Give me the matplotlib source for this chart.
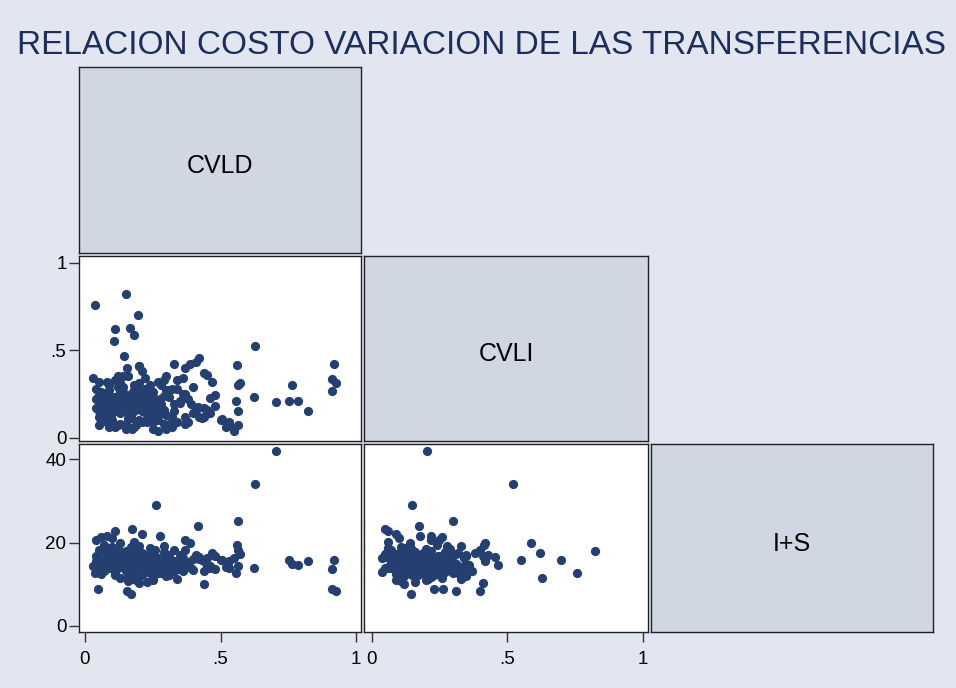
import matplotlib
matplotlib.use("Agg")
import matplotlib.pyplot as plt

plt.rcParams['font.family'] = ['Liberation Sans', 'DejaVu Sans']

# --- data (one entry per observation: CVLD, CVLI, I+S) ---
cvld = [
    0.037, 0.152, 0.196, 0.110, 0.167, 0.180, 0.106, 0.627, 0.705, 0.917,
    0.910, 0.925, 0.910, 0.764, 0.752, 0.786, 0.822, 0.623, 0.560, 0.563,
    0.570, 0.557, 0.565, 0.504, 0.530, 0.532, 0.565, 0.262, 0.418, 0.173,
    0.110, 0.278, 0.370, 0.387, 0.290, 0.440, 0.048, 0.170, 0.410, 0.420,
    0.450, 0.440, 0.370, 0.330, 0.400, 0.360, 0.340, 0.300, 0.480, 0.460,
    0.470, 0.145, 0.155, 0.200,
    0.05, 0.08, 0.12, 0.15, 0.18, 0.21, 0.24, 0.27, 0.30, 0.33,
    0.06, 0.09, 0.11, 0.14, 0.17, 0.20, 0.23, 0.26, 0.29, 0.32,
    0.04, 0.07, 0.10, 0.13, 0.16, 0.19, 0.22, 0.25, 0.28, 0.31,
    0.05, 0.08, 0.12, 0.16, 0.19, 0.22, 0.25, 0.35, 0.38, 0.41,
    0.06, 0.10, 0.13, 0.15, 0.18, 0.21, 0.24, 0.27, 0.43, 0.46,
    0.07, 0.09, 0.11, 0.14, 0.17, 0.20, 0.23, 0.26, 0.34, 0.37,
    0.05, 0.08, 0.12, 0.15, 0.18, 0.21, 0.24, 0.29, 0.32, 0.39,
    0.04, 0.06, 0.10, 0.13, 0.16, 0.19, 0.22, 0.25, 0.28, 0.42,
    0.03, 0.07, 0.11, 0.14, 0.17, 0.20, 0.23, 0.26, 0.30, 0.36,
    0.05, 0.09, 0.12, 0.15, 0.18, 0.21, 0.24, 0.27, 0.31, 0.44,
    0.08, 0.10, 0.13, 0.16, 0.19, 0.22, 0.25, 0.33, 0.38, 0.50,
    0.06, 0.09, 0.12, 0.14, 0.17, 0.20, 0.23, 0.28, 0.35, 0.40,
    0.07, 0.11, 0.15, 0.18, 0.21, 0.26, 0.30, 0.34, 0.45, 0.52,
    0.04, 0.08, 0.13, 0.16, 0.19, 0.23, 0.27, 0.31, 0.37, 0.48,
    0.09, 0.12, 0.14, 0.17, 0.20, 0.22, 0.25, 0.29, 0.32, 0.55,
]
cvli = [
    0.757, 0.823, 0.700, 0.620, 0.627, 0.587, 0.550, 0.522, 0.205, 0.420,
    0.335, 0.310, 0.265, 0.300, 0.210, 0.210, 0.153, 0.234, 0.415, 0.300,
    0.310, 0.210, 0.155, 0.107, 0.070, 0.090, 0.070, 0.150, 0.175, 0.050,
    0.060, 0.220, 0.250, 0.420, 0.330, 0.120, 0.230, 0.145, 0.430, 0.455,
    0.360, 0.370, 0.400, 0.420, 0.290, 0.340, 0.330, 0.350, 0.245, 0.225,
    0.320, 0.467, 0.400, 0.410,
    0.12, 0.25, 0.18, 0.08, 0.30, 0.15, 0.22, 0.10, 0.27, 0.19,
    0.20, 0.06, 0.33, 0.24, 0.13, 0.28, 0.09, 0.21, 0.16, 0.12,
    0.28, 0.17, 0.10, 0.31, 0.22, 0.07, 0.19, 0.26, 0.14, 0.23,
    0.15, 0.32, 0.24, 0.11, 0.18, 0.34, 0.13, 0.21, 0.09, 0.16,
    0.09, 0.20, 0.27, 0.16, 0.06, 0.23, 0.30, 0.18, 0.11, 0.14,
    0.24, 0.13, 0.19, 0.29, 0.21, 0.10, 0.25, 0.14, 0.28, 0.08,
    0.32, 0.18, 0.07, 0.21, 0.26, 0.17, 0.12, 0.24, 0.06, 0.19,
    0.17, 0.10, 0.23, 0.14, 0.35, 0.20, 0.27, 0.05, 0.19, 0.12,
    0.34, 0.22, 0.15, 0.26, 0.11, 0.31, 0.16, 0.22, 0.13, 0.25,
    0.07, 0.27, 0.29, 0.20, 0.15, 0.09, 0.18, 0.32, 0.08, 0.17,
    0.21, 0.14, 0.08, 0.18, 0.24, 0.28, 0.11, 0.15, 0.22, 0.10,
    0.26, 0.30, 0.21, 0.35, 0.12, 0.19, 0.25, 0.30, 0.20, 0.14,
    0.12, 0.23, 0.05, 0.27, 0.38, 0.17, 0.05, 0.09, 0.16, 0.06,
    0.22, 0.09, 0.26, 0.14, 0.20, 0.13, 0.04, 0.27, 0.12, 0.18,
    0.15, 0.35, 0.19, 0.25, 0.41, 0.22, 0.09, 0.08, 0.28, 0.04,
]
ins = [
    12.8, 18.0, 15.9, 17.5, 11.6, 19.9, 15.7, 34.0, 42.0, 15.9,
    13.7, 8.4, 8.9, 14.8, 15.9, 14.6, 15.5, 13.9, 19.3, 25.1,
    17.2, 12.6, 14.3, 15.8, 13.9, 15.5, 18.1, 28.9, 23.9, 23.2,
    22.8, 21.6, 20.7, 19.9, 19.1, 10.0, 8.9, 7.7, 17.0, 16.6,
    14.5, 13.2, 18.2, 15.5, 13.5, 16.2, 11.2, 12.0, 16.8, 14.0,
    17.6, 14.5, 8.4, 10.3,
    14.5, 16.2, 13.8, 15.1, 17.3, 12.4, 15.8, 14.0, 16.6, 13.2,
    15.4, 18.6, 12.9, 16.0, 14.7, 19.2, 13.5, 15.2, 17.8, 14.3,
    16.8, 13.1, 21.0, 14.9, 11.8, 15.6, 17.0, 13.7, 15.9, 12.2,
    18.3, 14.2, 15.5, 10.8, 16.4, 13.3, 14.8, 17.1, 15.3, 16.5,
    12.5, 15.0, 17.7, 13.9, 20.2, 14.6, 12.8, 16.3, 15.7, 14.4,
    19.5, 16.9, 13.4, 15.2, 11.3, 17.4, 14.1, 18.1, 13.6, 15.0,
    13.0, 21.6, 15.9, 14.2, 16.7, 12.1, 18.7, 15.1, 14.0, 13.8,
    15.6, 13.7, 16.1, 19.8, 14.5, 11.0, 15.4, 17.2, 12.7, 16.0,
    14.3, 17.9, 12.3, 15.8, 18.9, 14.9, 10.5, 16.6, 15.0, 13.1,
    16.2, 14.8, 18.4, 13.2, 15.3, 22.1, 14.6, 12.6, 16.9, 15.5,
    17.5, 19.0, 14.4, 15.7, 13.5, 16.3, 11.7, 18.2, 14.7, 15.9,
    21.2, 13.9, 15.2, 16.8, 12.0, 17.6, 14.1, 15.4, 13.6, 16.1,
    13.3, 14.7, 16.5, 12.9, 17.4, 15.0, 13.8, 15.1, 16.4, 14.2,
    20.5, 15.6, 11.4, 14.0, 18.5, 16.0, 13.0, 15.3, 14.8, 13.7,
    15.2, 17.0, 14.5, 12.4, 16.7, 15.8, 11.1, 14.9, 15.6, 16.2,
]

names = ["CVLD", "CVLI", "I+S"]
title = "RELACION COSTO VARIACION DE LAS TRANSFERENCIAS"

frac_ticks = [0, 0.5, 1]
frac_labels = ["0", ".5", "1"]
is_ticks = [0, 20, 40]
is_labels = ["0", "20", "40"]

BG = "#E1E6F0"
DIAG = "#D1D7E2"
NAVY = "#243F70"
TXT = "#1E2E5C"

W, H = 956, 688
fig = plt.figure(figsize=(W / 100, H / 100), dpi=100, facecolor=BG)


def ax_at(x0, y0, x1, y1):
    return fig.add_axes([x0 / W, 1 - y1 / H, (x1 - x0) / W, (y1 - y0) / H])


def style(ax, face="white"):
    ax.set_facecolor(face)
    for s in ax.spines.values():
        s.set_color("#222222")
        s.set_linewidth(1.0)
    ax.tick_params(length=7, width=1, color="#333333", labelsize=13.5,
                   labelcolor="black", pad=2)
    ax.set_xticks([])
    ax.set_yticks([])


xlim1 = (-0.022, 1.018)
xlim2 = (-0.028, 1.02)
ylim_frac = (-0.019, 1.038)
ylim_is = (-1.44, 43.6)

# diagonal label cells
diag_boxes = [(79, 67, 361, 253), (364, 256, 648, 441), (651, 444, 933, 632)]
for box, name in zip(diag_boxes, names):
    a = ax_at(*box)
    style(a, DIAG)
    a.text(0.5, 0.47, name, transform=a.transAxes, ha="center", va="center",
           fontsize=18, color="black")

# CVLD vs CVLI
a21 = ax_at(79, 256, 361, 441)
style(a21)
a21.scatter(cvld, cvli, s=44, color=NAVY, linewidths=0, zorder=3)
a21.set_xlim(*xlim1)
a21.set_ylim(*ylim_frac)
a21.set_yticks(frac_ticks)
a21.set_yticklabels(frac_labels)

# CVLD vs I+S
a31 = ax_at(79, 444, 361, 632)
style(a31)
a31.scatter(cvld, ins, s=44, color=NAVY, linewidths=0, zorder=3)
a31.set_xlim(*xlim1)
a31.set_ylim(*ylim_is)
a31.set_yticks(is_ticks)
a31.set_yticklabels(is_labels)
a31.set_xticks(frac_ticks)
a31.set_xticklabels(frac_labels)

# CVLI vs I+S
a32 = ax_at(364, 444, 648, 632)
style(a32)
a32.scatter(cvli, ins, s=44, color=NAVY, linewidths=0, zorder=3)
a32.set_xlim(*xlim2)
a32.set_ylim(*ylim_is)
a32.set_xticks(frac_ticks)
a32.set_xticklabels(frac_labels)

for a in (a31, a32):
    a.tick_params(axis="x", pad=7)

fig.text(17 / W, 1 - 45 / H, title, ha="left", va="center", fontsize=24,
         color=TXT)

fig.savefig("out.png", dpi=100, facecolor=BG)
